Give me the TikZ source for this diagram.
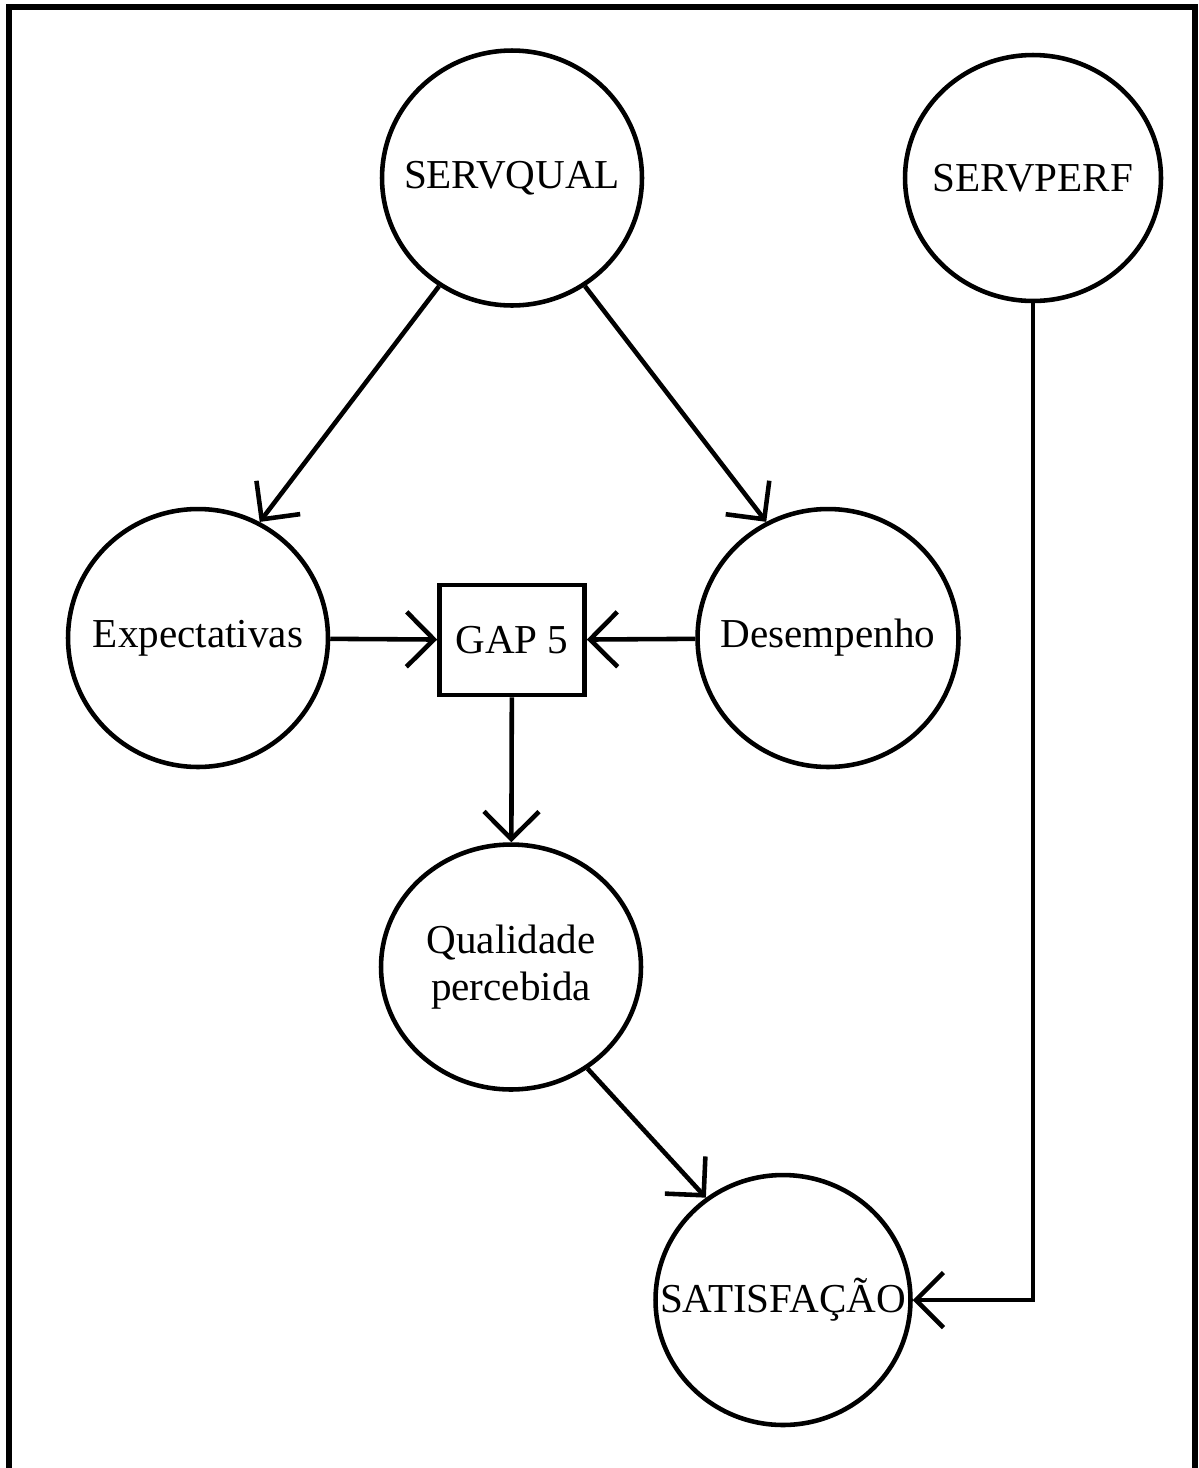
\documentclass[tikz,border=0pt]{standalone}
\usepackage{fontspec}
\setmainfont{Liberation Serif}
\usetikzlibrary{shapes.geometric,arrows.meta}

\begin{document}
\begin{tikzpicture}[x=0.02cm, y=-0.02cm, font=\fontsize{23.4}{27}\selectfont,
	bubble/.style={draw, ellipse, line width=2.6pt, inner sep=0pt, minimum width=5.2cm, minimum height=5.1cm},
	gapbox/.style={draw, rectangle, line width=2.6pt, minimum width=2.9cm, minimum height=2.2cm},
	arr/.style={line width=2.6pt, -{Straight Barb[length=0.55cm, width=1.1cm]}}]
	\useasboundingbox (0,0) rectangle (1198,1468);
	\draw [line width=3pt] (9,1468) -- (9,7) -- (1195,7) -- (1195,1468);

	\node[bubble, label=center:SERVQUAL] (sq) at (512,178) {};
	\node[bubble, minimum width=5.12cm, minimum height=4.92cm, label=center:SERVPERF] (sp) at (1033,178) {};
	\node[bubble, minimum height=5.16cm, label=center:Expectativas] (ex) at (198,638) {};
	\node[bubble, minimum width=5.22cm, minimum height=5.16cm, label=center:Desempenho] (de) at (828,638) {};
	\node[gapbox] (gap) at (512,640) {GAP 5};
	\node[bubble, minimum height=4.9cm, label={[align=center]center:Qualidade\\percebida}] (qp) at (511,967) {};
	\node[bubble, minimum width=5.1cm, minimum height=5cm, label=center:SATISFAÇÃO] (sat) at (783,1300) {};

	\draw [arr] (sq.-124) -- (ex.62);
	\draw [arr] (sq.-56) -- (de.118);
	\draw [arr] (ex) -- (gap);
	\draw [arr] (de) -- (gap);
	\draw [arr] (gap) -- (qp);
	\draw [arr] (qp.-53) -- (sat.127);
	\draw [arr] (sp.south) |- (sat.east);
\end{tikzpicture}
\end{document}
